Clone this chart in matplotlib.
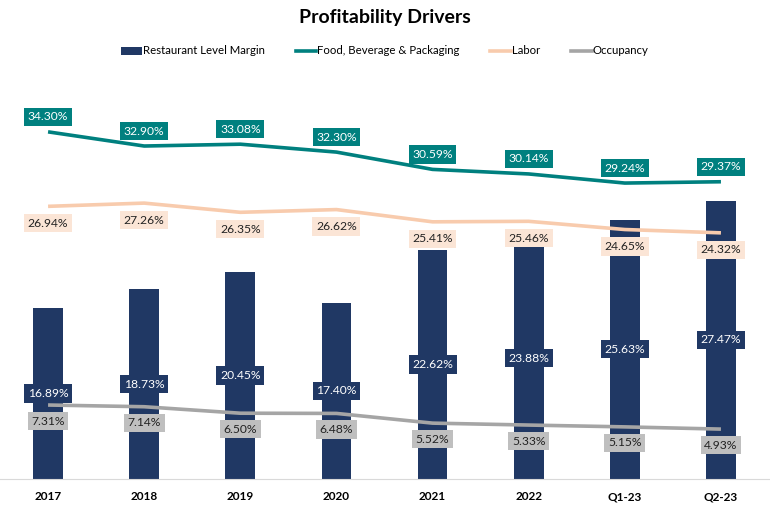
import matplotlib
matplotlib.use("Agg")
import matplotlib.pyplot as plt
from matplotlib.patches import Patch
from matplotlib.lines import Line2D

plt.rcParams['font.family'] = ['Lato', 'DejaVu Sans']

categories = ['2017', '2018', '2019', '2020', '2021', '2022', 'Q1-23', 'Q2-23']
margin = [16.89, 18.73, 20.45, 17.40, 22.62, 23.88, 25.63, 27.47]
food = [34.30, 32.90, 33.08, 32.30, 30.59, 30.14, 29.24, 29.37]
labor = [26.94, 27.26, 26.35, 26.62, 25.41, 25.46, 24.65, 24.32]
occupancy = [7.31, 7.14, 6.50, 6.48, 5.52, 5.33, 5.15, 4.93]

NAVY = '#203864'
TEAL = '#00807F'
PEACH = '#F8CBAD'
PEACH_BOX = '#FBE5D6'
GRAY = '#A5A5A5'
GRAY_BOX = '#BFBFBF'

fig = plt.figure(figsize=(7.7, 5.09), dpi=100)
ax = fig.add_axes([0.0, 30/509, 769/770, 384.6/509])
x = list(range(len(categories)))

ax.bar(x, margin, width=0.31, color=NAVY, zorder=2)
ax.plot(x, food, color=TEAL, lw=2.6, zorder=3, solid_capstyle='butt')
ax.plot(x, labor, color=PEACH, lw=2.6, zorder=3, solid_capstyle='butt')
ax.plot(x, occupancy, color=GRAY, lw=2.6, zorder=3, solid_capstyle='butt')

fs = 8.7
for i in x:
    ax.annotate(f'{margin[i]:.2f}%', (i, margin[i] / 2), ha='center', va='center',
                fontsize=fs, color='white', zorder=5,
                bbox=dict(boxstyle='square,pad=0.3', fc=NAVY, ec='none'))
    ax.annotate(f'{food[i]:.2f}%', (i, food[i]), xytext=(0, 15), textcoords='offset pixels',
                ha='center', va='center', fontsize=fs, color='white', zorder=5,
                bbox=dict(boxstyle='square,pad=0.3', fc=TEAL, ec='none'))
    ax.annotate(f'{labor[i]:.2f}%', (i, labor[i]), xytext=(0, -17), textcoords='offset pixels',
                ha='center', va='center', fontsize=fs, color='#222222', zorder=5,
                bbox=dict(boxstyle='square,pad=0.3', fc=PEACH_BOX, ec='none'))
    ax.annotate(f'{occupancy[i]:.2f}%', (i, occupancy[i]), xytext=(0, -16), textcoords='offset pixels',
                ha='center', va='center', fontsize=fs, color='#222222', zorder=5,
                bbox=dict(boxstyle='square,pad=0.3', fc=GRAY_BOX, ec='none'))

ax.set_xlim(-0.5, len(categories) - 0.5)
ax.set_ylim(0, 38)
ax.set_xticks(x)
ax.set_xticklabels(categories, fontweight='bold', fontsize=8.5)
ax.tick_params(axis='x', length=0, pad=9)
ax.set_yticks([])
for s in ['top', 'right', 'left']:
    ax.spines[s].set_visible(False)
ax.spines['bottom'].set_color('#D9D9D9')
ax.patch.set_alpha(0)

fig.text(0.5, 1 - 18/509, 'Profitability Drivers', ha='center', va='center',
         fontsize=14, fontweight='bold')

handles = [Patch(fc=NAVY, ec='none'),
           Line2D([], [], color=TEAL, lw=2.6),
           Line2D([], [], color=PEACH, lw=2.6),
           Line2D([], [], color=GRAY, lw=2.6)]
labels = ['Restaurant Level Margin', 'Food, Beverage & Packaging', 'Labor', 'Occupancy']
fig.legend(handles, labels, loc='center', bbox_to_anchor=(0.5, 1 - 51/509), ncol=4,
           frameon=False, fontsize=8.2, handlelength=1.8, handleheight=0.7,
           handletextpad=0.1, columnspacing=2.7)

fig.savefig('out.png', dpi=100)
